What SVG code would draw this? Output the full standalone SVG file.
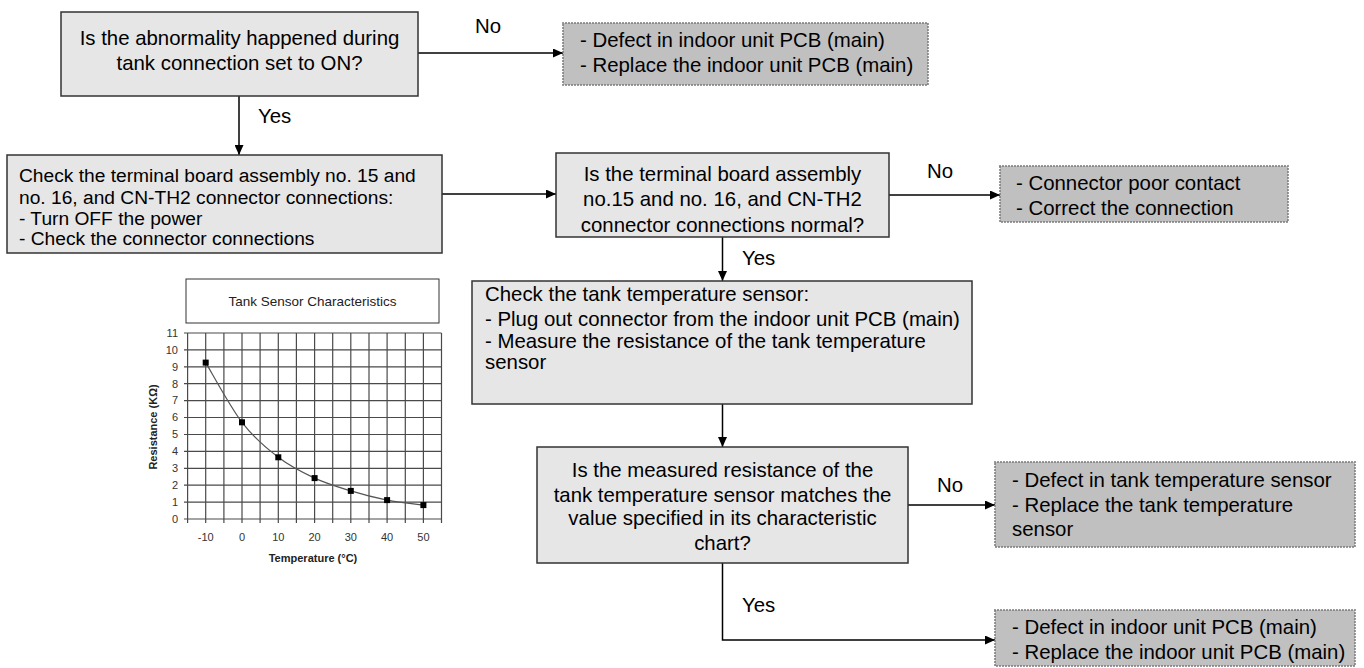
<svg xmlns="http://www.w3.org/2000/svg" width="1364" height="668" viewBox="0 0 1364 668">
<defs>
<style>
.box{fill:#e6e6e6;stroke:#333;stroke-width:1.5}
.dbox{fill:#c0c0c0;stroke:#7a7a7a;stroke-width:2;stroke-dasharray:0 3;stroke-linecap:round}
.t{font-family:"Liberation Sans",Arial,sans-serif;font-size:20.4px;fill:#000}
.s{font-size:19.2px}
.c{text-anchor:middle}
.conn{stroke:#000;stroke-width:1.5;fill:none;marker-end:url(#ah)}
.grid{stroke:#4a4a4a;stroke-width:1.2}
.ax{font-family:"Liberation Sans",Arial,sans-serif;font-size:11px;fill:#333}
.axb{font-family:"Liberation Sans",Arial,sans-serif;font-size:11px;font-weight:bold;fill:#222}
.mk{fill:#000}
</style>
<marker id="ah" viewBox="0 0 10 9" refX="10" refY="4.5" markerWidth="10" markerHeight="9" markerUnits="userSpaceOnUse" orient="auto">
<path d="M0,0 L10,4.5 L0,9 z" fill="#000"/>
</marker>
</defs>
<rect width="1364" height="668" fill="#fff"/>

<g id="connectors">
<path class="conn" d="M418,53 H563"/>
<path class="conn" d="M239,96 V155"/>
<path class="conn" d="M442,194 H556"/>
<path class="conn" d="M889,195 H1000"/>
<path class="conn" d="M722.5,237 V281"/>
<path class="conn" d="M722.5,404 V447"/>
<path class="conn" d="M908,505 H995"/>
<path class="conn" d="M722.5,563 V640 H995"/>
<text class="t" x="475" y="33">No</text>
<text class="t" x="258" y="123">Yes</text>
<text class="t" x="927" y="178">No</text>
<text class="t" x="742" y="265">Yes</text>
<text class="t" x="937" y="492">No</text>
<text class="t" x="742" y="612">Yes</text>
</g>

<g id="q1">
<rect class="box" x="61" y="12" width="357" height="84"/>
<text class="t c" x="239.5" y="45">Is the abnormality happened during</text>
<text class="t c" x="239.5" y="70">tank connection set to ON?</text>
</g>

<g id="r1">
<rect class="dbox" x="563" y="23" width="365" height="62"/>
<text class="t" x="580" y="47">- Defect in indoor unit PCB (main)</text>
<text class="t" x="580" y="72">- Replace the indoor unit PCB (main)</text>
</g>

<g id="s1">
<rect class="box" x="7" y="155" width="435" height="98"/>
<text class="t s" x="19" y="182">Check the terminal board assembly no. 15 and</text>
<text class="t s" x="19" y="203.5">no. 16, and CN-TH2 connector connections:</text>
<text class="t s" x="19" y="225">- Turn OFF the power</text>
<text class="t s" x="19" y="245">- Check the connector connections</text>
</g>

<g id="q2">
<rect class="box" x="556" y="153" width="333" height="84"/>
<text class="t c" x="722.5" y="180.5">Is the terminal board assembly</text>
<text class="t c" x="722.5" y="206">no.15 and no. 16, and CN-TH2</text>
<text class="t c" x="722.5" y="231.5">connector connections normal?</text>
</g>

<g id="r2">
<rect class="dbox" x="1000" y="166" width="288" height="56"/>
<text class="t" x="1016" y="190">- Connector poor contact</text>
<text class="t" x="1016" y="215">- Correct the connection</text>
</g>

<g id="s2">
<rect class="box" x="472" y="281" width="500" height="123"/>
<text class="t" x="485" y="301">Check the tank temperature sensor:</text>
<text class="t" x="485" y="326">- Plug out connector from the indoor unit PCB (main)</text>
<text class="t" x="485" y="348">- Measure the resistance of the tank temperature</text>
<text class="t" x="485" y="369">sensor</text>
</g>

<g id="q3">
<rect class="box" x="537" y="447" width="371" height="116"/>
<text class="t c" x="722.5" y="477">Is the measured resistance of the</text>
<text class="t c" x="722.5" y="502">tank temperature sensor matches the</text>
<text class="t c" x="722.5" y="525">value specified in its characteristic</text>
<text class="t c" x="722.5" y="550">chart?</text>
</g>

<g id="r3">
<rect class="dbox" x="995" y="462" width="360" height="85"/>
<text class="t" x="1012" y="487">- Defect in tank temperature sensor</text>
<text class="t" x="1012" y="512">- Replace the tank temperature</text>
<text class="t" x="1012" y="536">sensor</text>
</g>

<g id="r4">
<rect class="dbox" x="995" y="610" width="360" height="56"/>
<text class="t" x="1012" y="634">- Defect in indoor unit PCB (main)</text>
<text class="t" x="1012" y="659">- Replace the indoor unit PCB (main)</text>
</g>

<g id="chart">
<rect x="186" y="279" width="253" height="44" fill="#fff" stroke="#333" stroke-width="1"/>
<text x="312.5" y="306" text-anchor="middle" font-family="Liberation Sans, Arial, sans-serif" font-size="13.5" fill="#222">Tank Sensor Characteristics</text>
<g class="grid">
<path d="M184,519H441.5M184,502.1H441.5M184,485.2H441.5M184,468.3H441.5M184,451.4H441.5M184,434.5H441.5M184,417.5H441.5M184,400.6H441.5M184,383.7H441.5M184,366.8H441.5M184,349.9H441.5M184,333H441.5"/>
<path d="M187.6,333V523M205.7,333V523M223.9,333V523M242,333V523M260.1,333V523M278.3,333V523M296.4,333V523M314.6,333V523M332.7,333V523M350.8,333V523M369,333V523M387.1,333V523M405.3,333V523M423.4,333V523M441.5,333V523"/>
</g>
<g class="ax" text-anchor="end">
<text x="178" y="523">0</text>
<text x="178" y="506">1</text>
<text x="178" y="489">2</text>
<text x="178" y="472">3</text>
<text x="178" y="455">4</text>
<text x="178" y="438">5</text>
<text x="178" y="421">6</text>
<text x="178" y="404">7</text>
<text x="178" y="387.5">8</text>
<text x="178" y="370.5">9</text>
<text x="178" y="353.5">10</text>
<text x="178" y="336.5">11</text>
</g>
<g class="ax" text-anchor="middle">
<text x="205.7" y="541">-10</text>
<text x="242" y="541">0</text>
<text x="278.3" y="541">10</text>
<text x="314.6" y="541">20</text>
<text x="350.8" y="541">30</text>
<text x="387.1" y="541">40</text>
<text x="423.4" y="541">50</text>
</g>
<text class="axb" x="313" y="562" text-anchor="middle">Temperature (°C)</text>
<text class="axb" transform="translate(157,427) rotate(-90)" text-anchor="middle">Resistance (KΩ)</text>
<path d="M205.7,362.6 C211.75,372.55 229.9,406.5 242,422.3 C254.1,438.1 266.2,448 278.3,457.3 C290.4,466.6 302.5,472.5 314.6,478.1 C326.7,483.7 338.7,487.2 350.8,490.9 C362.9,494.6 375,497.7 387.1,500.1 C399.2,502.5 417.35,504.3 423.4,505.1" fill="none" stroke="#555" stroke-width="1.2"/>
<g class="mk">
<rect x="202.7" y="359.6" width="6" height="6"/>
<rect x="239" y="419.3" width="6" height="6"/>
<rect x="275.3" y="454.3" width="6" height="6"/>
<rect x="311.6" y="475.1" width="6" height="6"/>
<rect x="347.8" y="487.9" width="6" height="6"/>
<rect x="384.1" y="497.1" width="6" height="6"/>
<rect x="420.4" y="502.1" width="6" height="6"/>
</g>
</g>
</svg>
